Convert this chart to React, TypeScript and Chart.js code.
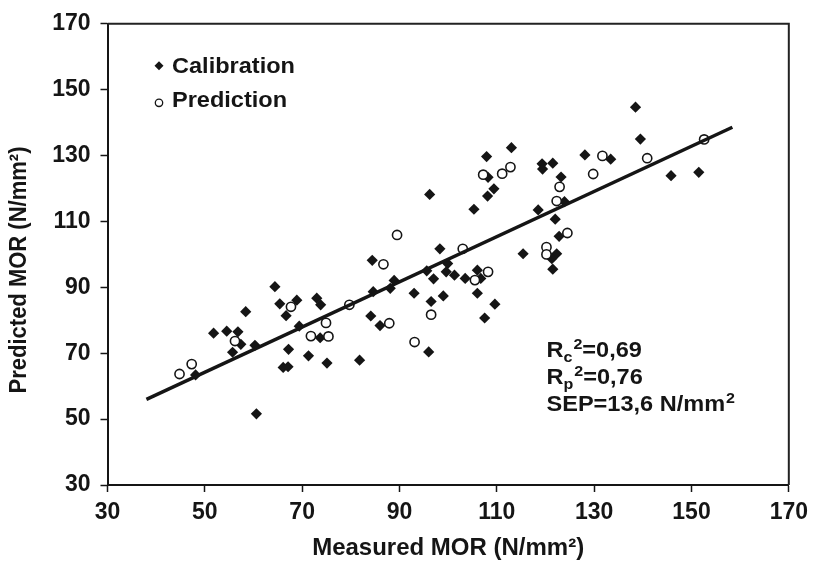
import React, { useEffect, useRef } from 'react';
import { Chart, registerables } from 'chart.js';

Chart.register(...registerables);

// Calibration set (diamonds)
const calibrationX = [
  48.1, 51.8, 54.5, 56.8, 57.4, 55.7, 58.4, 60.3, 60.6, 64.4,
  65.4, 68.9, 66.7, 69.4, 67.2, 66.1, 67.1, 71.3, 73.0, 73.8,
  73.7, 75.1, 81.8, 84.1, 86.0, 84.4, 88.9, 88.1, 84.6, 93.0,
  96.0, 96.5, 99.0, 95.6, 97.0, 99.9, 99.6, 101.3, 103.5, 106.0,
  98.3, 96.2, 105.3, 106.0, 106.7, 109.6, 107.5, 113.0, 107.9, 108.2,
  109.4, 108.1, 119.3, 119.4, 121.5, 118.5, 115.4, 123.2, 123.9, 122.0,
  122.8, 122.3, 121.3, 121.5, 128.1, 133.4, 138.5, 139.5, 145.8, 151.5,
];
const calibrationY = [
  63.4, 76.1, 76.7, 76.5, 72.7, 70.3, 82.6, 72.4, 51.6, 90.2,
  85.0, 86.1, 81.4, 78.2, 71.2, 65.7, 65.9, 69.2, 86.7, 84.7,
  74.7, 67.0, 67.9, 81.3, 78.4, 98.2, 92.1, 89.7, 88.7, 88.2,
  70.4, 85.7, 87.4, 95.0, 92.6, 97.2, 94.7, 93.7, 92.7, 88.2,
  101.7, 118.2, 113.7, 95.2, 92.7, 84.9, 80.7, 132.4, 129.7, 123.4,
  119.9, 117.7, 127.5, 125.9, 127.7, 113.5, 100.2, 123.5, 116.0, 110.7,
  105.5, 100.2, 98.7, 95.5, 130.2, 128.9, 144.7, 135.0, 123.9, 124.9,
];

// Prediction set (open circles)
const predictionX = [
  44.8, 47.3, 56.2, 67.7, 71.8, 74.9, 75.4, 79.7, 86.7, 87.9,
  89.5, 93.1, 96.5, 103.0, 105.5, 108.2, 107.2, 111.1, 112.8, 120.2,
  120.2, 122.3, 122.9, 124.5, 129.8, 131.7, 140.9, 152.6,
];
const predictionY = [
  63.7, 66.7, 73.7, 84.1, 75.2, 79.2, 75.1, 84.7, 97.0, 79.1,
  105.9, 73.4, 81.7, 101.7, 92.2, 94.7, 124.2, 124.5, 126.5, 102.2,
  100.0, 116.2, 120.5, 106.5, 124.4, 129.9, 129.2, 134.9,
];

// Regression line end points
const trendX = [38, 158.4];
const trendY = [56, 138.6];

const xTicks = [30, 50, 70, 90, 110, 130, 150, 170];
const yTicks = [30, 50, 70, 90, 110, 130, 150, 170];

const seriesLabels = ['Calibration', 'Prediction'];
const xTitle = 'Measured MOR (N/mm²)';
const yTitle = 'Predicted MOR (N/mm²)';
const statR2c = '0,69';
const statR2p = '0,76';
const statSEP = '13,6 N/mm';

const FONT = "'Liberation Sans', Arial, Helvetica, sans-serif";
const INK = '#151515';
const STRETCH = 1.07;

const overlayPlugin = {
  id: 'overlay',
  afterDraw(chart: any) {
    const { ctx, chartArea: a } = chart;
    ctx.save();
    // top and right frame
    ctx.strokeStyle = '#222';
    ctx.lineWidth = 2;
    ctx.beginPath();
    ctx.moveTo(a.left, a.top);
    ctx.lineTo(a.right, a.top);
    ctx.lineTo(a.right, a.bottom);
    ctx.stroke();

    // legend markers
    const lx = a.left + 51.5;
    const dy = a.top + 42;
    ctx.fillStyle = INK;
    ctx.beginPath();
    ctx.moveTo(lx - 4.5, dy);
    ctx.lineTo(lx, dy - 4.5);
    ctx.lineTo(lx + 4.5, dy);
    ctx.lineTo(lx, dy + 4.5);
    ctx.closePath();
    ctx.fill();
    const cy = a.top + 79;
    ctx.beginPath();
    ctx.arc(lx, cy, 3.7, 0, Math.PI * 2);
    ctx.fillStyle = '#fff';
    ctx.fill();
    ctx.strokeStyle = INK;
    ctx.lineWidth = 1.3;
    ctx.stroke();

    // text drawn with slight horizontal stretch
    const stretchedText = (text: string, x: number, y: number) => {
      ctx.save();
      ctx.translate(x, y);
      ctx.scale(STRETCH, 1);
      ctx.fillText(text, 0, 0);
      ctx.restore();
      return ctx.measureText(text).width * STRETCH;
    };

    ctx.fillStyle = INK;
    ctx.font = `bold 22px ${FONT}`;
    ctx.textBaseline = 'middle';
    ctx.textAlign = 'left';
    stretchedText(seriesLabels[0], a.left + 64.5, a.top + 43);
    stretchedText(seriesLabels[1], a.left + 64.5, a.top + 77);

    // statistics text
    ctx.textBaseline = 'alphabetic';
    const sx = a.left + 439;
    const big = `bold 22px ${FONT}`;
    const small = `bold 15px ${FONT}`;
    const drawRow = (sub: string, value: string, y: number) => {
      let x = sx;
      ctx.font = big;
      x += stretchedText('R', x, y);
      ctx.font = small;
      x += stretchedText(sub, x, y + 5) + 1;
      x += stretchedText('2', x, y - 8);
      ctx.font = big;
      stretchedText('=' + value, x, y);
    };
    drawRow('c', statR2c, a.top + 333);
    drawRow('p', statR2p, a.top + 360.5);
    ctx.font = big;
    const w = stretchedText('SEP=' + statSEP, sx, a.top + 387.5);
    ctx.font = small;
    stretchedText('2', sx + w + 1, a.top + 379);

    // y axis title
    ctx.font = `bold 22px ${FONT}`;
    ctx.textAlign = 'center';
    ctx.textBaseline = 'middle';
    ctx.translate(20, 270);
    ctx.rotate(-Math.PI / 2);
    ctx.scale(1, STRETCH);
    ctx.fillText(yTitle, 0, 0);
    ctx.restore();
  },
};

export default function App() {
  const canvasRef = useRef<HTMLCanvasElement | null>(null);

  useEffect(() => {
    document.body.style.margin = '0';
    const canvas = canvasRef.current;
    if (!canvas) return;

    const chart = new Chart(canvas, {
      type: 'scatter',
      data: {
        datasets: [
          {
            label: 'trend',
            data: trendX.map((x, i) => ({ x, y: trendY[i] })),
            showLine: true,
            pointRadius: 0,
            borderColor: INK,
            borderWidth: 3.5,
            order: 0,
          },
          {
            label: seriesLabels[1],
            data: predictionX.map((x, i) => ({ x, y: predictionY[i] })),
            pointStyle: 'circle',
            pointRadius: 4.6,
            backgroundColor: '#fff',
            borderColor: INK,
            borderWidth: 1.6,
            order: 1,
          },
          {
            label: seriesLabels[0],
            data: calibrationX.map((x, i) => ({ x, y: calibrationY[i] })),
            pointStyle: 'rectRot',
            pointRadius: 5.6,
            backgroundColor: INK,
            borderColor: INK,
            borderWidth: 0,
            order: 2,
          },
        ],
      },
      options: {
        responsive: true,
        maintainAspectRatio: false,
        animation: false,
        layout: { padding: { left: 0, top: 19, right: 21, bottom: 0 } },
        plugins: {
          legend: { display: false },
          tooltip: { enabled: false },
        },
        scales: {
          x: {
            type: 'linear',
            min: 30,
            max: 170,
            afterFit: (s: any) => {
              s.height = 78;
            },
            afterBuildTicks: (s: any) => {
              s.ticks = xTicks.map((v) => ({ value: v }));
            },
            grid: {
              drawOnChartArea: false,
              drawTicks: true,
              tickLength: 7,
              tickWidth: 1.5,
              tickColor: INK,
            },
            border: { display: true, color: INK, width: 2 },
            ticks: {
              color: INK,
              padding: 7,
              maxRotation: 0,
              font: { family: FONT, size: 23, weight: 'bold' },
            },
            title: {
              display: true,
              text: xTitle,
              color: INK,
              padding: { top: 0, bottom: 0 },
              font: { family: FONT, size: 24, weight: 'bold' },
            },
          },
          y: {
            type: 'linear',
            min: 30,
            max: 170,
            afterFit: (s: any) => {
              s.width = 107.5;
            },
            afterBuildTicks: (s: any) => {
              s.ticks = yTicks.map((v) => ({ value: v }));
            },
            grid: {
              drawOnChartArea: false,
              drawTicks: true,
              tickLength: 7,
              tickWidth: 1.5,
              tickColor: INK,
            },
            border: { display: true, color: INK, width: 2 },
            ticks: {
              color: INK,
              padding: 10,
              font: { family: FONT, size: 23, weight: 'bold' },
            },
          },
        },
      },
      plugins: [overlayPlugin],
    });

    return () => chart.destroy();
  }, []);

  return (
    <div style={{ position: 'relative', width: 815, height: 563 }}>
      <canvas ref={canvasRef} />
    </div>
  );
}
